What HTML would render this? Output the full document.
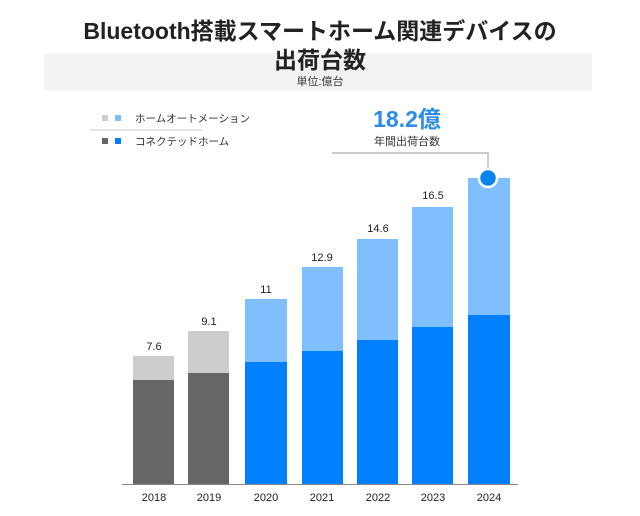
<!DOCTYPE html>
<html><head><meta charset="utf-8"><style>
body{margin:0;background:#fff;}
svg text{font-family:"Liberation Sans","Noto Sans CJK JP",sans-serif;}
</style></head><body>
<svg width="640" height="511" xmlns="http://www.w3.org/2000/svg">
<rect x="44" y="53" width="548" height="38" fill="#f3f3f3"/>
<text x="320" y="39" text-anchor="middle" font-size="23" font-weight="bold" fill="#222">Bluetooth搭載スマートホーム関連デバイスの</text>
<text x="320" y="68" text-anchor="middle" font-size="23" font-weight="bold" fill="#222">出荷台数</text>
<text x="320" y="85" text-anchor="middle" font-size="11" fill="#333">単位:億台</text>
<rect x="102" y="115" width="6" height="6" fill="#cccccc"/>
<rect x="115" y="115" width="6" height="6" fill="#80bfff"/>
<text x="135" y="122" font-size="10.5" fill="#333">ホームオートメーション</text>
<line x1="90" y1="130" x2="202" y2="130" stroke="#ccc"/>
<rect x="102" y="138" width="6" height="6" fill="#666"/>
<rect x="115" y="138" width="6" height="6" fill="#0080ff"/>
<text x="135" y="145" font-size="10.5" fill="#333">コネクテッドホーム</text>
<text x="407" y="127" text-anchor="middle" font-size="23" font-weight="bold" fill="#2a8ce8">18.2億</text>
<text x="407" y="145" text-anchor="middle" font-size="11" fill="#333">年間出荷台数</text>
<polyline points="332,153 488,153 488,172" fill="none" stroke="#bbb" stroke-width="1.5"/>
<g>
<rect x="133" y="356" width="41" height="128" fill="#cccccc"/><rect x="133" y="380" width="41" height="104" fill="#666"/>
<rect x="188" y="331" width="41" height="153" fill="#cccccc"/><rect x="188" y="373" width="41" height="111" fill="#666"/>
<rect x="245" y="299" width="42" height="185" fill="#80bfff"/><rect x="245" y="362" width="42" height="122" fill="#0080ff"/>
<rect x="302" y="267" width="41" height="217" fill="#80bfff"/><rect x="302" y="351" width="41" height="133" fill="#0080ff"/>
<rect x="357" y="239" width="41" height="245" fill="#80bfff"/><rect x="357" y="340" width="41" height="144" fill="#0080ff"/>
<rect x="412" y="207" width="41" height="277" fill="#80bfff"/><rect x="412" y="327" width="41" height="157" fill="#0080ff"/>
<rect x="468" y="178" width="42" height="306" fill="#80bfff"/><rect x="468" y="315" width="42" height="169" fill="#0080ff"/>
</g>
<circle cx="488" cy="178" r="9" fill="#0a84ee" stroke="#fff" stroke-width="2.5"/>
<line x1="122" y1="484.5" x2="518" y2="484.5" stroke="#888" stroke-width="1"/>
<g font-size="11" fill="#222" text-anchor="middle">
<text x="154" y="350">7.6</text><text x="209" y="325">9.1</text><text x="266" y="293">11</text>
<text x="322" y="261">12.9</text><text x="378" y="232">14.6</text><text x="433" y="199">16.5</text>
<text x="154" y="501">2018</text><text x="209" y="501">2019</text><text x="266" y="501">2020</text><text x="322" y="501">2021</text><text x="378" y="501">2022</text><text x="433" y="501">2023</text><text x="489" y="501">2024</text>
</g>
</svg>
</body></html>
